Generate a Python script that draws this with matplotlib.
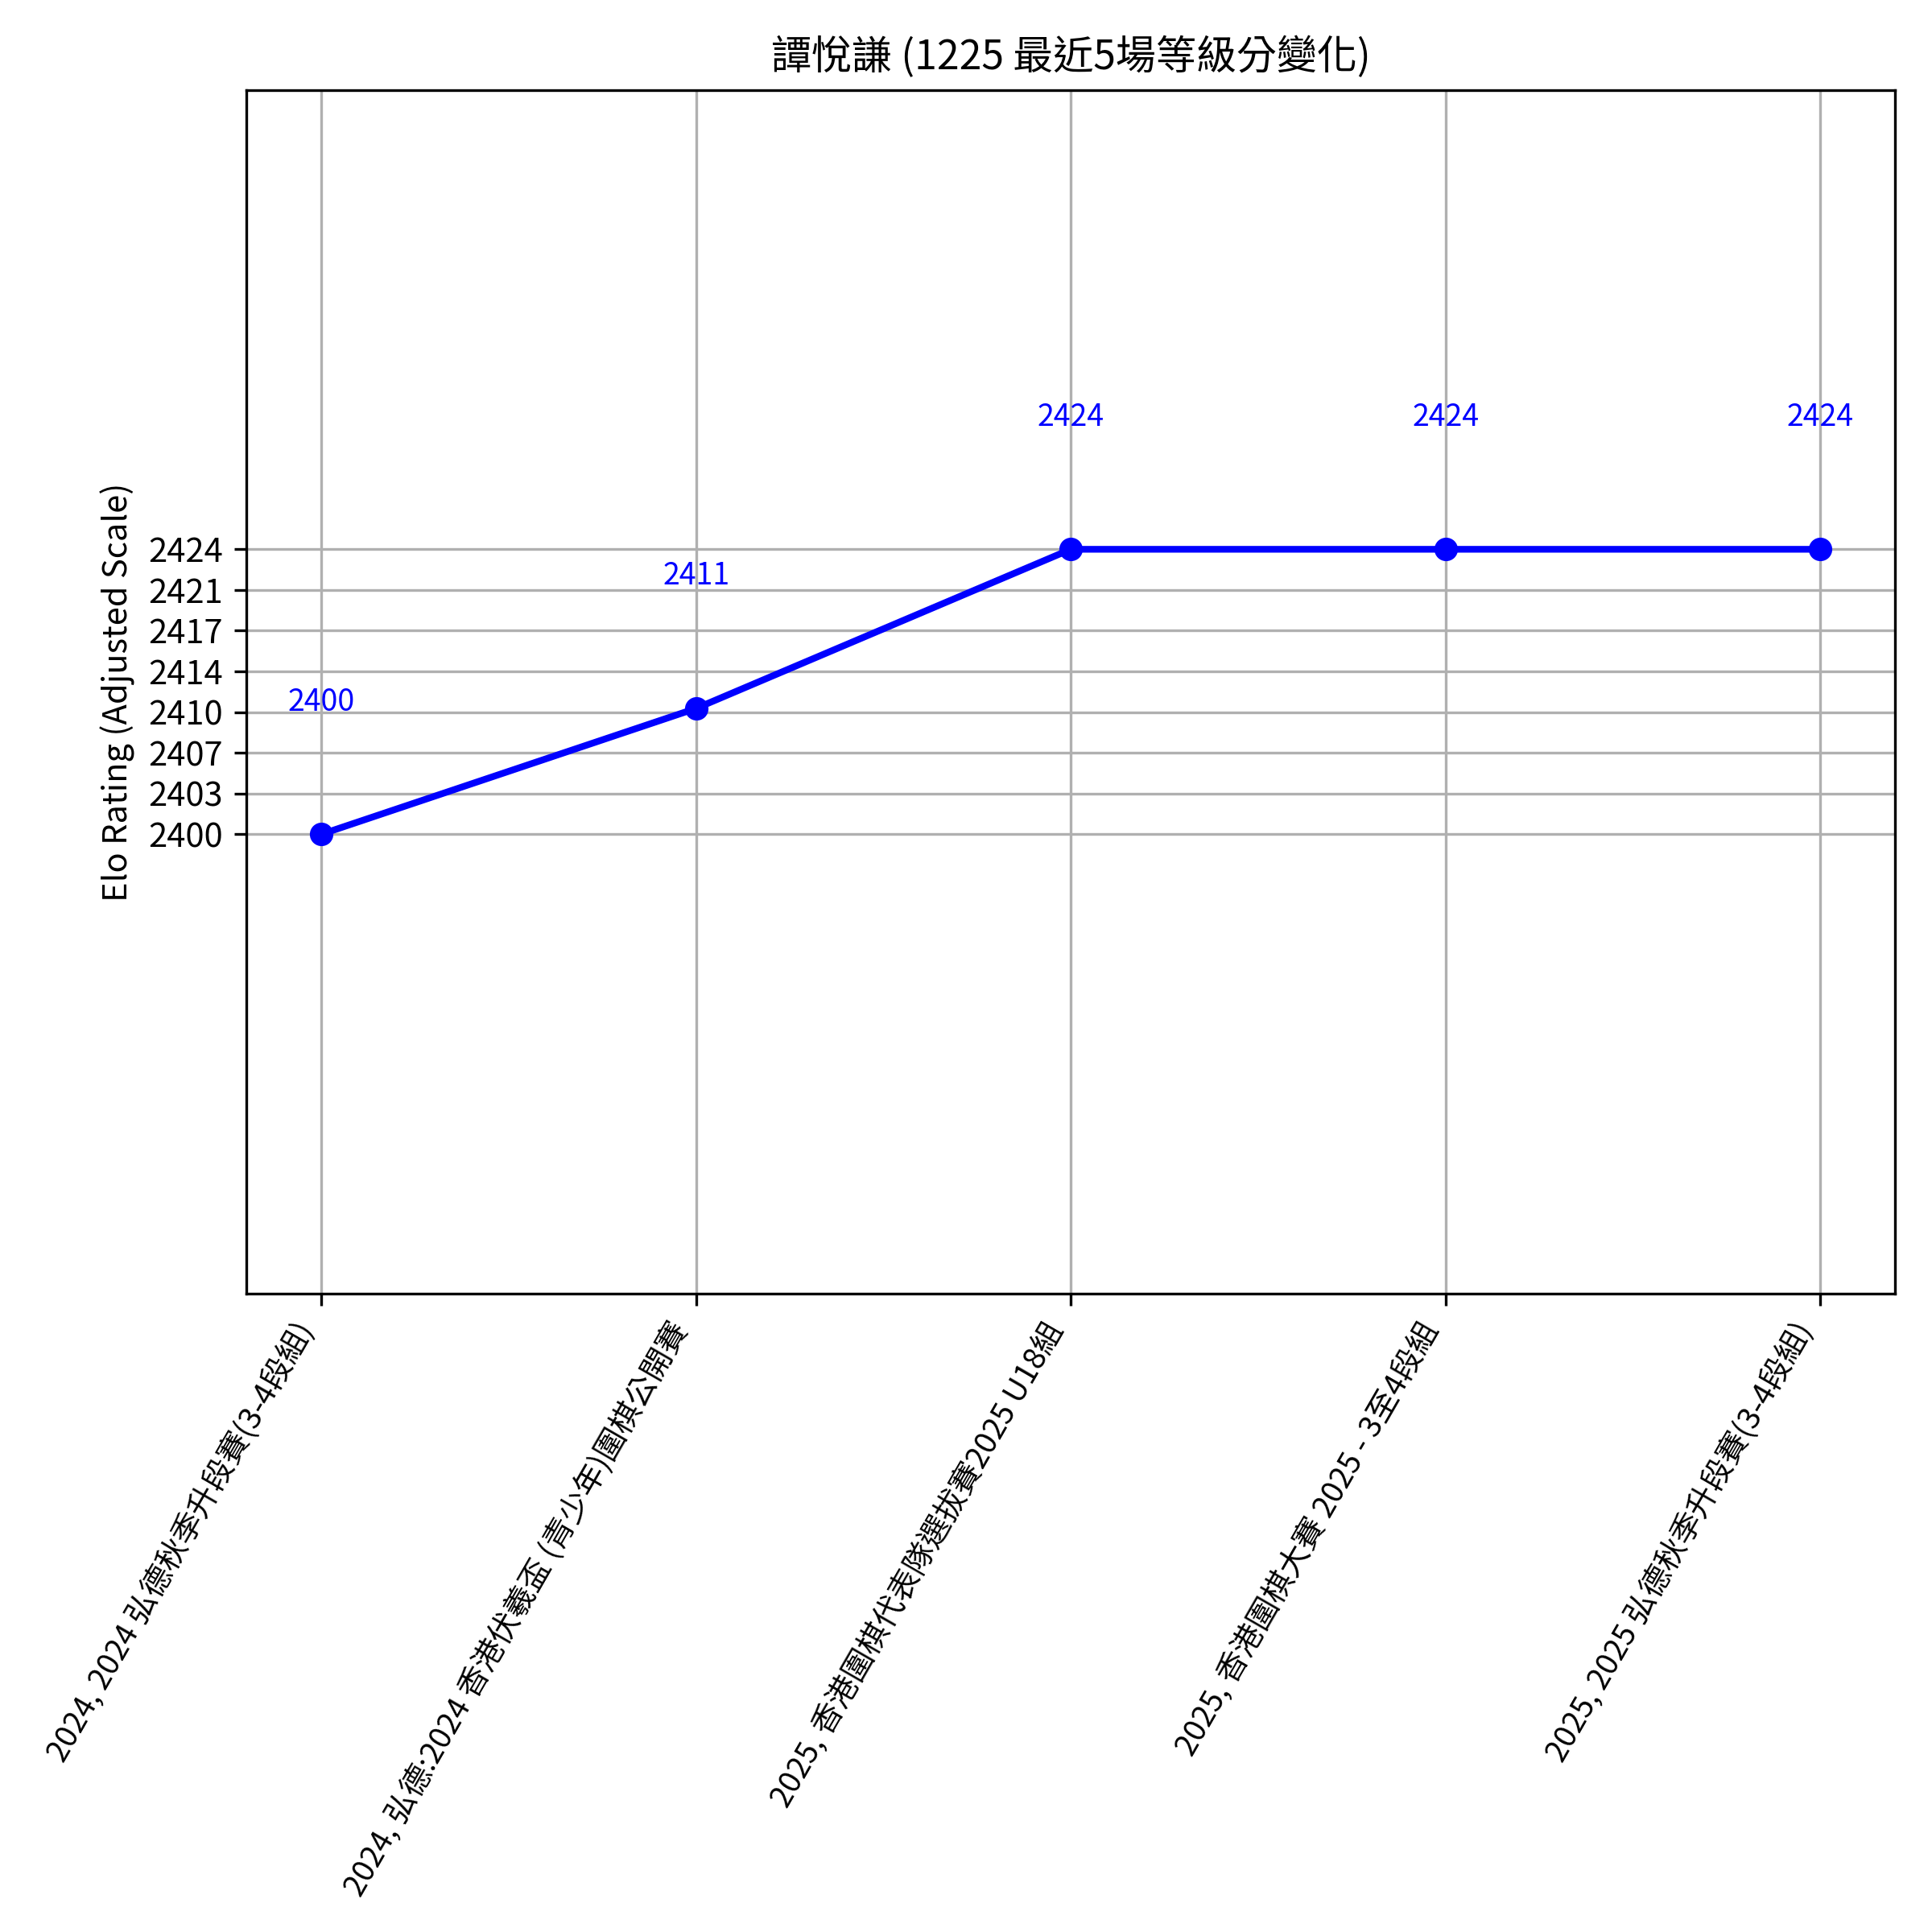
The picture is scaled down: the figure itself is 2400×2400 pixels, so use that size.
import numpy as np
import matplotlib
matplotlib.use("Agg")
import matplotlib.pyplot as plt

plt.rcParams['font.family'] = ['Noto Sans CJK TC', 'DejaVu Sans']

# =========================
# データ
# =========================
title = "譚悅謙 (1225 最近5場等級分變化)"
events = [
    "2024, 2024 弘德秋季升段賽(3-4段組)",
    "2024, 弘德:2024 香港伏羲盃 (青少年)圍棋公開賽",
    "2025, 香港圍棋代表隊選拔賽2025 U18組",
    "2025, 香港圍棋大賽 2025 - 3至4段組",
    "2025, 2025 弘德秋季升段賽(3-4段組)",
]
ratings = [2400, 2410.6, 2424, 2424, 2424]
rating_labels = ["2400", "2411", "2424", "2424", "2424"]

# =========================
# プロット
# =========================
fig, ax = plt.subplots(figsize=(8, 8), dpi=300)
fig.subplots_adjust(left=0.1276, right=0.9809, top=0.9535, bottom=0.3304)

x = np.arange(len(events))
ax.plot(x, ratings, marker='o', color='blue', linewidth=2, markersize=6)

for xi, v, lab in zip(x, ratings, rating_labels):
    ax.text(xi, v + 9.8, lab, ha='center', va='bottom', color='blue', fontsize=9)

lo, hi = min(ratings), max(ratings)
ax.set_ylim(lo - 38.7, hi + 38.7)
yt = np.linspace(lo, hi, 8)
ax.set_yticks(yt)
ax.set_yticklabels([f"{t:.0f}" for t in yt], fontsize=10)

ax.set_xticks(x)
ax.set_xticklabels(events, rotation=60, ha='right', fontsize=9.2)

ax.set_ylabel("Elo Rating (Adjusted Scale)", fontsize=10)
ax.set_title(title, fontsize=12)
ax.grid(True)

fig.savefig("out.png", dpi=300)
